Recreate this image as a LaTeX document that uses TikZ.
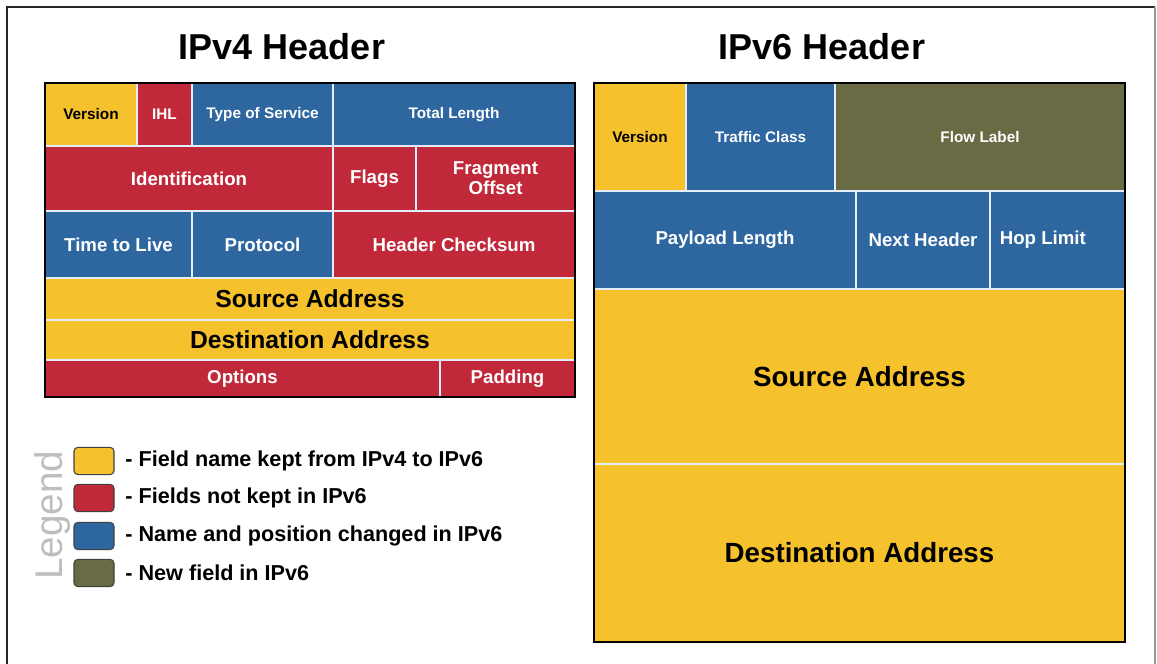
\documentclass[tikz,border=0pt]{standalone}
\usepackage{fontspec}
\setmainfont{Liberation Sans}
\usetikzlibrary{positioning}
\definecolor{FieldYellow}{HTML}{F5C12C}
\definecolor{FieldRed}{HTML}{C12839}
\definecolor{FieldBlue}{HTML}{2E67A0}
\definecolor{FieldOlive}{HTML}{6A6A44}
\definecolor{FieldLine}{HTML}{E4EEF8}
\definecolor{LegendGray}{HTML}{BEBEBE}

\tikzset{
  field/.style={draw=FieldLine, line width=1.1pt},
  small/.style={font=\bfseries\fontsize{11.5}{13}\selectfont, align=center},
  medium/.style={font=\bfseries\fontsize{14}{15}\selectfont, align=center},
  large/.style={font=\bfseries\fontsize{18.5}{20}\selectfont},
  huge/.style={font=\bfseries\fontsize{20.8}{22}\selectfont},
  headertitle/.style={font=\bfseries\fontsize{27}{30}\selectfont},
  keybox/.style={draw=black!75, line width=0.8pt, rounded corners=3pt,
    minimum width=30pt, minimum height=20.5pt, inner sep=0pt},
  keytext/.style={font=\bfseries\fontsize{16.2}{18}\selectfont, inner sep=0pt, anchor=west},
}

\begin{document}
\begin{tikzpicture}[x=0.75pt, y=-0.75pt]
  \useasboundingbox (0,0) rectangle (1157,664);
  \draw[black!85, line width=1.4pt] (7,664) -- (7,7) -- (1155,7);
  \draw[black!40, line width=1pt] (1155,7) -- (1155,664);

  \node[headertitle] (vfourtitle) at (282,47) {IPv4 Header};
  \node[headertitle] (vsixtitle) at (822,47) {IPv6 Header};

  \filldraw[field, fill=FieldYellow] (45,83) rectangle (137,146) node[midway, small] (vfourver) {Version};
  \filldraw[field, fill=FieldRed] (137,83) rectangle (192,146) node[midway, small, white] (vfourihl) {IHL};
  \filldraw[field, fill=FieldBlue] (192,83) rectangle (333,146) node[midway, small, white] (vfourtos) {Type of Service};
  \filldraw[field, fill=FieldBlue] (333,83) rectangle (575,146) node[midway, small, white] (vfourlen) {Total Length};

  \filldraw[field, fill=FieldRed] (45,146) rectangle (333,211) node[midway, medium, white] (vfourid) {Identification};
  \filldraw[field, fill=FieldRed] (333,146) rectangle (416,211) node[midway, medium, white] (vfourflags) {Flags};
  \filldraw[field, fill=FieldRed] (416,146) rectangle (575,211) node[midway, medium, white] (vfourfrag) {Fragment\\Offset};

  \filldraw[field, fill=FieldBlue] (45,211) rectangle (192,278) node[midway, medium, white] (vfourttl) {Time to Live};
  \filldraw[field, fill=FieldBlue] (192,211) rectangle (333,278) node[midway, medium, white] (vfourproto) {Protocol};
  \filldraw[field, fill=FieldRed] (333,211) rectangle (575,278) node[midway, medium, white] (vfourcheck) {Header Checksum};

  \filldraw[field, fill=FieldYellow] (45,278) rectangle (575,320) node[midway, large] (vfoursrc) {Source Address};
  \filldraw[field, fill=FieldYellow] (45,320) rectangle (575,360) node[midway, large] (vfourdst) {Destination Address};

  \filldraw[field, fill=FieldRed] (45,360) rectangle (440,397) node[midway, medium, white] (vfouropt) {Options};
  \filldraw[field, fill=FieldRed] (440,360) rectangle (575,397) node[midway, medium, white] (vfourpad) {Padding};

  \draw[black, line width=2.2pt] (45,83) rectangle (575,397);

  \filldraw[field, fill=FieldYellow] (594,83) rectangle (686,191) node[midway, small] (vsixver) {Version};
  \filldraw[field, fill=FieldBlue] (686,83) rectangle (835,191) node[midway, small, white] (vsixclass) {Traffic Class};
  \filldraw[field, fill=FieldOlive] (835,83) rectangle (1125,191) node[midway, small, white] (vsixflow) {Flow Label};

  \filldraw[field, fill=FieldBlue] (594,191) rectangle (856,289) node[midway, medium, white] (vsixpay) {Payload Length};
  \filldraw[field, fill=FieldBlue] (856,191) rectangle (990,289) node[midway, medium, white] (vsixnext) {Next Header};
  \filldraw[field, fill=FieldBlue] (990,191) rectangle (1125,289) node[midway, medium, white, xshift=-11pt] (vsixhop) {Hop Limit};

  \filldraw[field, fill=FieldYellow] (594,289) rectangle (1125,464) node[midway, huge] (vsixsrc) {Source Address};
  \filldraw[field, fill=FieldYellow] (594,464) rectangle (1125,642) node[midway, huge] (vsixdst) {Destination Address};

  \draw[black, line width=2.2pt] (594,83) rectangle (1125,642);

  \node[rotate=90, text=LegendGray, font=\fontsize{29}{32}\selectfont] (legendword) at (53,515) {Legend};
  \node[keybox, fill=FieldYellow] (keyyellow) at (94,461) {};
  \node[keybox, fill=FieldRed] (keyred) at (94,498) {};
  \node[keybox, fill=FieldBlue] (keyblue) at (94,536) {};
  \node[keybox, fill=FieldOlive] (keyolive) at (94,573) {};
  \node[keytext, right=8pt of keyyellow] (keyyellowtext) {- Field name kept from IPv4 to IPv6};
  \node[keytext, right=8pt of keyred] (keyredtext) {- Fields not kept in IPv6};
  \node[keytext, right=8pt of keyblue] (keybluetext) {- Name and position changed in IPv6};
  \node[keytext, right=8pt of keyolive] (keyolivetext) {- New field in IPv6};
\end{tikzpicture}
\end{document}
